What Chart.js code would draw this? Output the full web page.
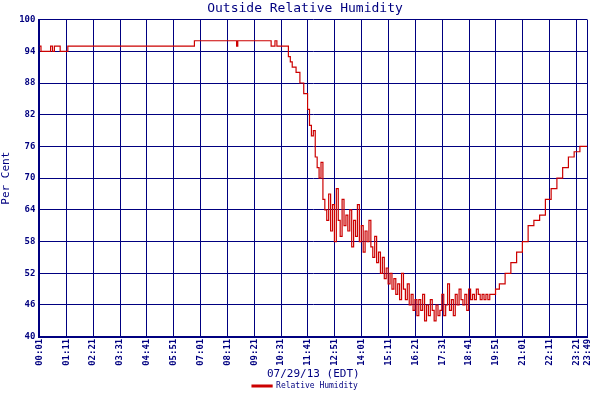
<!DOCTYPE html>
<html><head><script src="https://cdn.jsdelivr.net/npm/chart.js@4"></script>
<style>body{margin:0;background:#fff}#w{width:600px;height:400px}</style></head>
<body><div id="w"><canvas id="c"></canvas></div>
<script>
const headTimes=[1,5,10,15,20,25,30,35,40,45,50,55,60,65,70,75,400,405,515,518,600,605,615,620,630,640,650,655,660,670,680,690,700,705,710,715,720,725,730,735];
const headVals=[95,94,94,94,94,94,95,94,95,95,95,94,94,94,94,95,95,96,95,96,96,95,96,95,95,95,93,92,91,90,88,86,83,80,78,79,74,72,70,73];
const noisyStart=740, noisyStep=5;
const noisyVals=[66,64,62,67,60,65,58,68,62,59,66,61,63,
60,64,57,62,59,65,58,61,56,60,58,62,
57,55,59,54,56,52,55,51,53,50,52,49,
51,48,50,47,52,49,47,50,46,48,45,47,
44,47,45,48,43,46,44,47,45,43,46,44,
45,48,44,46,50,45,47,44,48,46,49,47,
46,48,45,49,47,48,47,49,48,47,48,47,
48,47,48,48];
const tailTimes=[1190,1200,1215,1230,1245,1260,1275,1290,1305,1320,1335,1350,1365,1380,1395,1410,1429];
const tailVals=[49,50,52,54,56,58,61,62,63,66,68,70,72,74,75,76,76];
const xTicks=[1,71,141,211,281,351,421,491,561,631,701,771,841,911,981,1051,1121,1191,1261,1331,1401,1429];
const yTicks=[40,46,52,58,64,70,76,82,88,94,100];

const pts=[];
headTimes.forEach((t,i)=>pts.push({x:t,y:headVals[i]}));
noisyVals.forEach((v,i)=>pts.push({x:noisyStart+i*noisyStep,y:v}));
tailTimes.forEach((t,i)=>pts.push({x:t,y:tailVals[i]}));
const navy='#000080', F='DejaVu Sans Mono';
const fmt=m=>{m=Math.round(m);const h=Math.floor(m/60),mm=m%60;return String(h).padStart(2,'0')+':'+String(mm).padStart(2,'0');};
new Chart(document.getElementById('c'),{type:'line',
data:{datasets:[{label:'Relative Humidity',data:pts,borderColor:'#cc0000',backgroundColor:'#cc0000',borderWidth:1.2,pointRadius:0,stepped:true,tension:0}]},
options:{responsive:true,maintainAspectRatio:false,animation:false,
layout:{padding:{top:0,right:-10,left:0,bottom:0}},
plugins:{title:{display:true,text:'Outside Relative Humidity',color:navy,font:{family:F,size:13,weight:'normal'},padding:{top:1,bottom:3}},
legend:{position:'bottom',labels:{color:navy,font:{family:F,size:8},boxWidth:20,boxHeight:2,padding:1}}},
scales:{x:{type:'linear',min:1,max:1429,afterBuildTicks:a=>{a.ticks=xTicks.map(v=>({value:v}));},
ticks:{color:navy,font:{family:F,size:9,weight:'bold'},minRotation:90,maxRotation:90,autoSkip:false,padding:2,callback:v=>fmt(v)},
grid:{color:navy,lineWidth:1,drawTicks:false},border:{color:navy,width:2},
title:{display:true,text:'07/29/13 (EDT)',color:navy,font:{family:F,size:11},padding:{top:0,bottom:0}}},
y:{min:40,max:100,afterBuildTicks:a=>{a.ticks=yTicks.map(v=>({value:v}));},
ticks:{color:navy,font:{family:F,size:9,weight:'bold'},padding:4},
grid:{color:navy,lineWidth:1,drawTicks:false},border:{color:navy,width:2},
title:{display:true,text:'Per Cent',color:navy,font:{family:F,size:11},padding:{top:0,bottom:2}}}}}});
</script></body></html>
